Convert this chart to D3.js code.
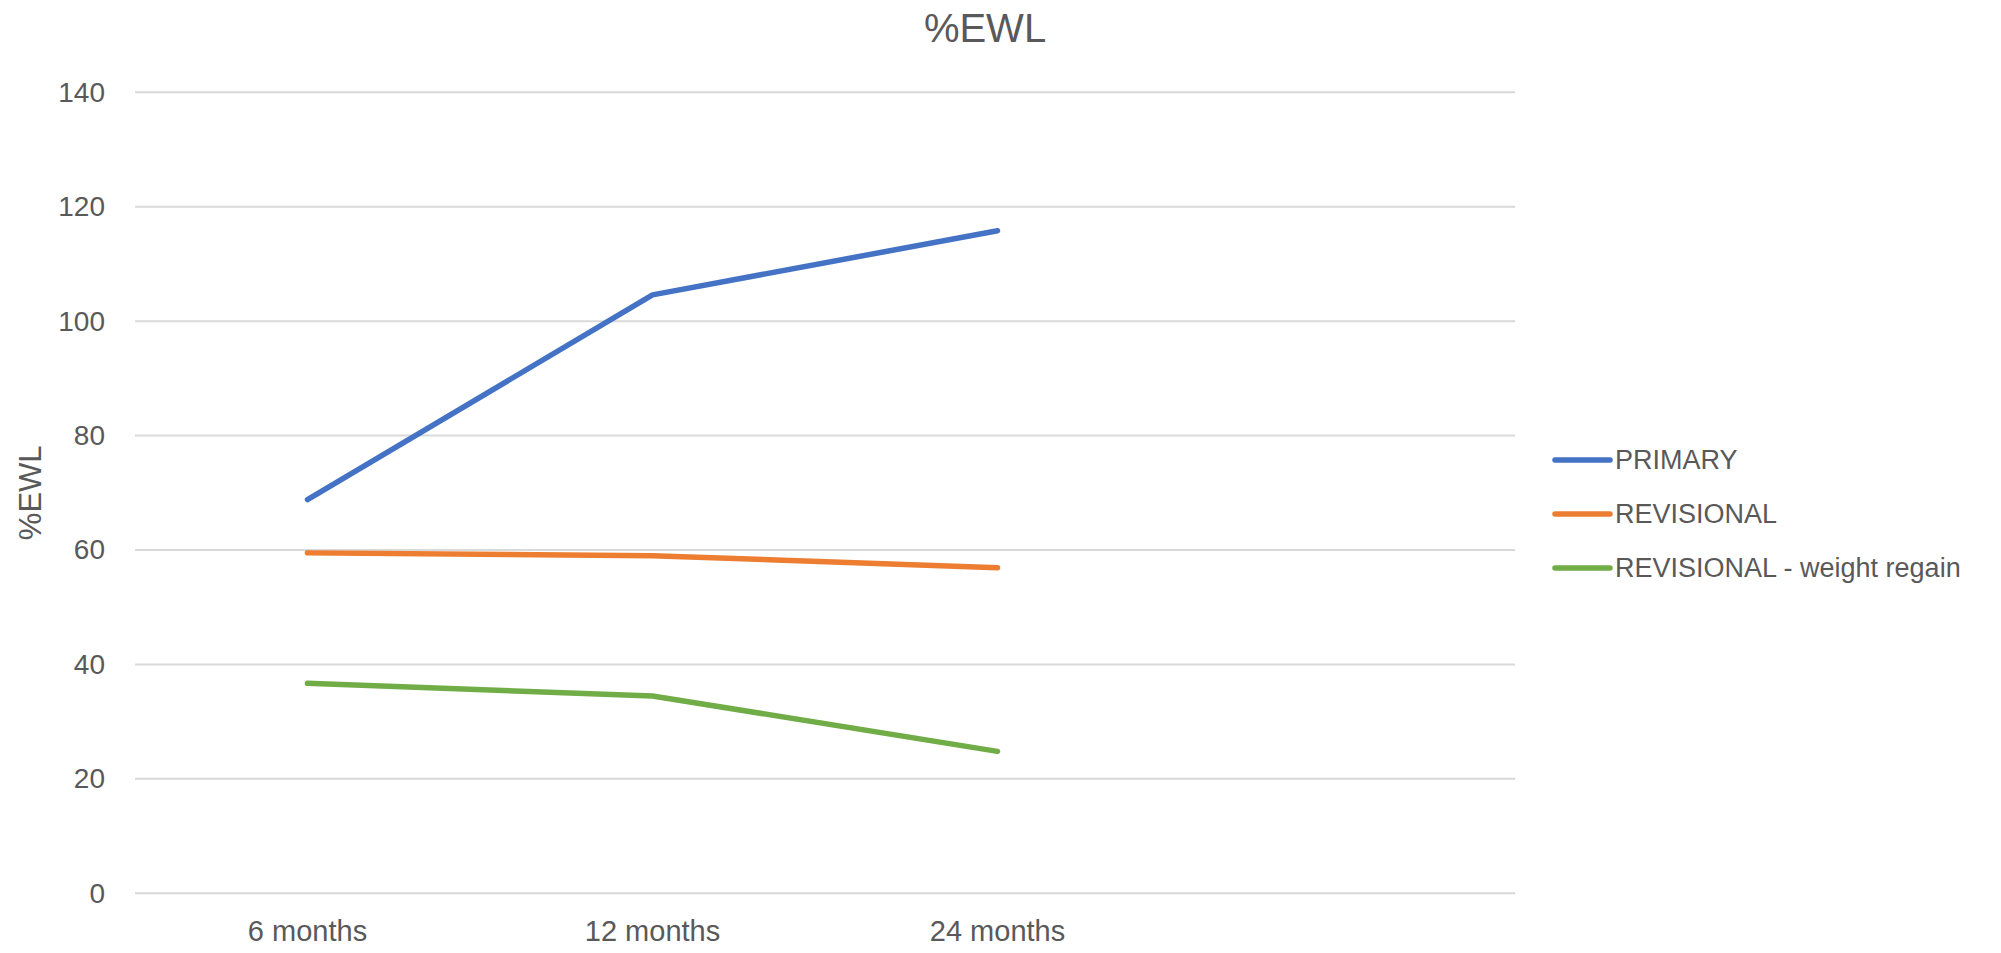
<!DOCTYPE html>
<html>
<head>
<meta charset="utf-8">
<script src="https://cdn.jsdelivr.net/npm/d3@7"></script>
<style>
  html, body { margin: 0; padding: 0; background: #fff; }
  svg { display: block; }
  text { font-family: "Liberation Sans", Arial, sans-serif; fill: #595959; }
</style>
</head>
<body>
<svg id="chart" width="2001" height="953"></svg>
<script>
// Follow-up time points (the fourth slot is an empty category)
const categories = ["6 months", "12 months", "24 months", ""];
const primary = [68.8, 104.6, 115.8];
const revisional = [59.5, 59.0, 56.9];
const revisionalRegain = [36.7, 34.5, 24.8];
const yTicks = [0, 20, 40, 60, 80, 100, 120, 140];

const series = [
  { name: "PRIMARY", values: primary, color: "#4472C4" },
  { name: "REVISIONAL", values: revisional, color: "#ED7D31" },
  { name: "REVISIONAL - weight regain", values: revisionalRegain, color: "#70AD47" }
];

const svg = d3.select("#chart");
const plot = { left: 135, right: 1515, top: 92.3, bottom: 893.3 };

const x = d3.scaleBand().domain(categories).range([plot.left, plot.right]);
const y = d3.scaleLinear().domain([0, 140]).range([plot.bottom, plot.top]);

// Horizontal gridlines
svg.append("g")
  .selectAll("line")
  .data(yTicks)
  .join("line")
  .attr("x1", plot.left).attr("x2", plot.right)
  .attr("y1", d => y(d)).attr("y2", d => y(d))
  .attr("stroke", "#d9d9d9").attr("stroke-width", 2);

// Y axis labels
const yAxis = svg.append("g")
  .attr("transform", `translate(${plot.left - 30},0)`)
  .call(d3.axisLeft(y).tickValues(yTicks).tickSize(0).tickPadding(0));
yAxis.select(".domain").remove();
yAxis.selectAll("text")
  .attr("font-size", 28)
  .attr("fill", "#595959")
  .attr("font-family", "Liberation Sans, Arial, sans-serif");

// X axis labels
const xAxis = svg.append("g")
  .attr("transform", `translate(0,${plot.bottom})`)
  .call(d3.axisBottom(x).tickSize(0).tickPadding(27));
xAxis.select(".domain").remove();
xAxis.selectAll("text")
  .attr("font-size", 29)
  .attr("fill", "#595959")
  .attr("font-family", "Liberation Sans, Arial, sans-serif");

// Lines
const line = d3.line()
  .x((d, i) => x(categories[i]) + x.bandwidth() / 2)
  .y(d => y(d));

svg.append("g")
  .selectAll("path")
  .data(series)
  .join("path")
  .attr("d", d => line(d.values))
  .attr("fill", "none")
  .attr("stroke", d => d.color)
  .attr("stroke-width", 5.5)
  .attr("stroke-linecap", "round")
  .attr("stroke-linejoin", "round");

// Title
svg.append("text")
  .attr("x", 985).attr("y", 41.5)
  .attr("text-anchor", "middle")
  .attr("font-size", 40)
  .text("%EWL");

// Y axis title
svg.append("text")
  .attr("transform", `translate(41,${(plot.top + plot.bottom) / 2}) rotate(-90)`)
  .attr("text-anchor", "middle")
  .attr("font-size", 31)
  .text("%EWL");

// Legend
const legend = svg.append("g").attr("transform", "translate(1555,460)");
const item = legend.selectAll("g")
  .data(series)
  .join("g")
  .attr("transform", (d, i) => `translate(0,${i * 54})`);
item.append("line")
  .attr("x1", 0).attr("x2", 55)
  .attr("stroke", d => d.color)
  .attr("stroke-width", 5.5)
  .attr("stroke-linecap", "round");
item.append("text")
  .attr("x", 60).attr("y", 0)
  .attr("dy", "0.35em")
  .attr("font-size", 27)
  .text(d => d.name);
</script>
</body>
</html>
